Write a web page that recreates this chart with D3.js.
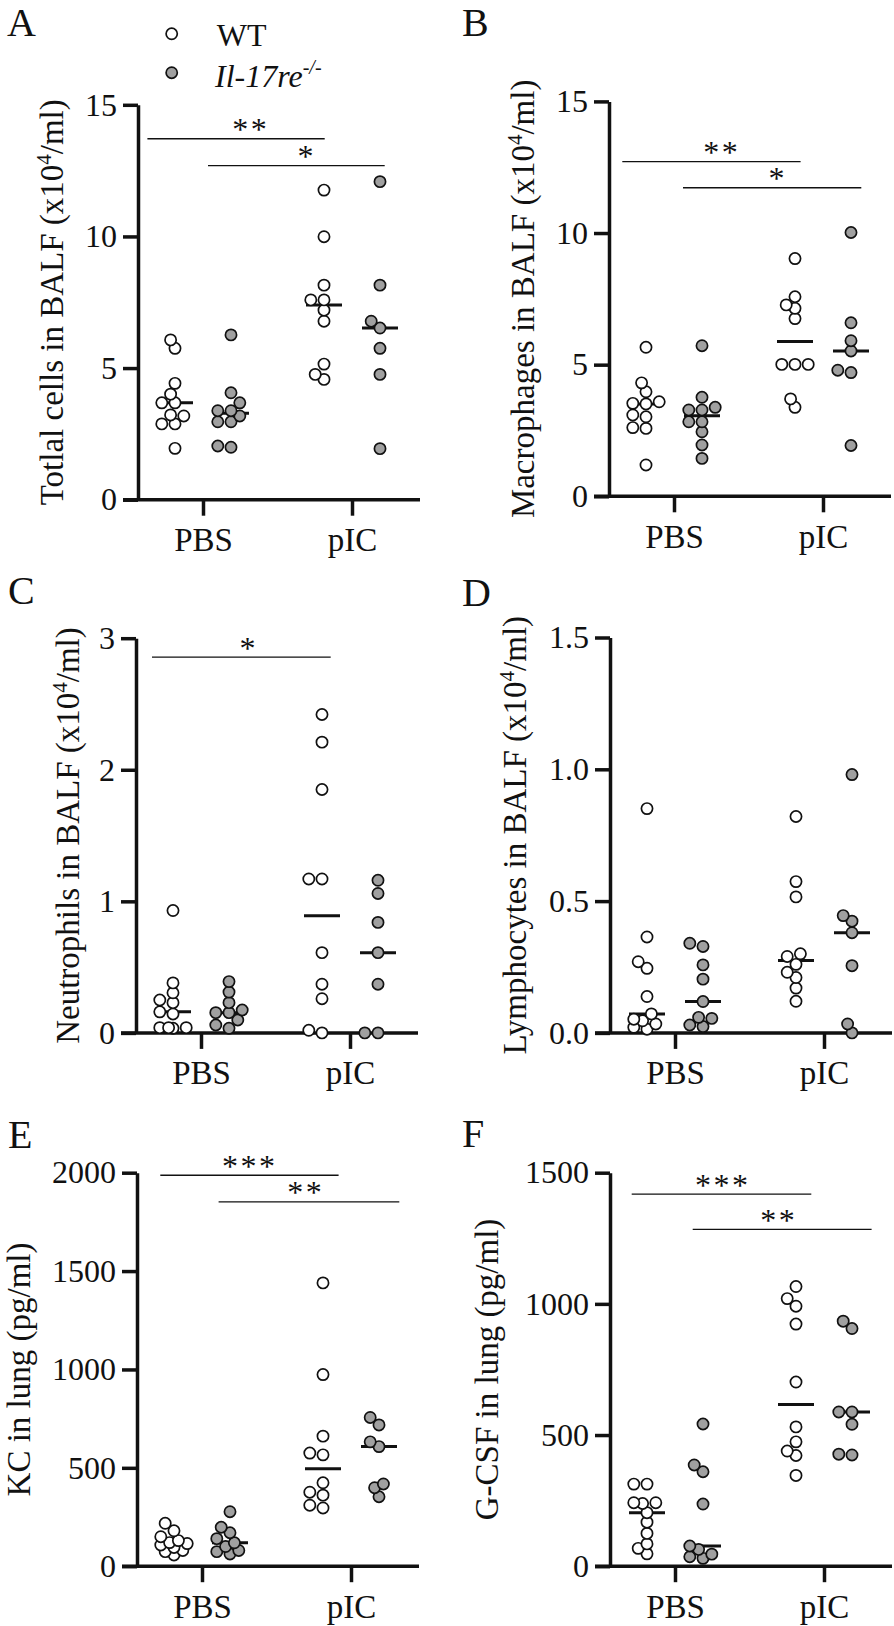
<!DOCTYPE html>
<html><head><meta charset="utf-8">
<script src="https://cdn.jsdelivr.net/npm/d3@7"></script>
<style>
html,body{margin:0;padding:0;background:#fff;}
svg{display:block;}
text{font-family:"Liberation Serif","Times New Roman",serif;fill:#111;}
</style></head><body>
<svg id="chart" width="894" height="1626"></svg>
<script>
// ---------- data ----------
const categories = ["PBS", "pIC"];
const groups = ["WT", "KO"];

// A: total cells (x10^4/ml)
const totalWT_PBS = [6.07, 5.75, 4.42, 4.01, 3.68, 3.68, 3.22, 3.18, 2.88, 2.88, 1.95];
const totalKO_PBS = [6.26, 4.06, 3.68, 3.38, 3.38, 3.18, 2.96, 2.96, 2.04, 1.99];
const totalWT_pIC = [11.76, 9.99, 8.15, 7.59, 7.59, 7.2, 6.78, 5.15, 4.76, 4.57];
const totalKO_pIC = [12.08, 8.15, 6.78, 6.52, 5.75, 4.76, 1.94];
// B: macrophages
const macWT_PBS = [5.66, 4.31, 3.97, 3.59, 3.53, 3.51, 3.09, 3.02, 2.61, 2.58, 1.19];
const macKO_PBS = [5.72, 3.76, 3.38, 3.28, 3.28, 2.83, 2.83, 2.45, 1.95, 1.44];
const macWT_pIC = [9.03, 7.58, 7.27, 7.14, 6.75, 5.01, 5.01, 5.01, 3.70, 3.38];
const macKO_pIC = [10.02, 6.59, 5.91, 5.52, 4.79, 4.70, 1.93];
// C: neutrophils
const neuWT_PBS = [0.93, 0.38, 0.305, 0.25, 0.23, 0.16, 0.144, 0.04, 0.04, 0.04, 0.035];
const neuKO_PBS = [0.39, 0.31, 0.23, 0.174, 0.154, 0.154, 0.098, 0.06, 0.035];
const neuWT_pIC = [2.42, 2.21, 1.85, 1.17, 1.17, 0.61, 0.37, 0.26, 0.02, 0.0];
const neuKO_pIC = [1.16, 1.06, 0.84, 0.61, 0.37, 0.0, 0.0];
// D: lymphocytes
const lymWT_PBS = [0.851, 0.364, 0.27, 0.245, 0.138, 0.072, 0.052, 0.046, 0.034, 0.021, 0.014];
const lymKO_PBS = [0.34, 0.328, 0.258, 0.204, 0.119, 0.059, 0.055, 0.03, 0.024];
const lymWT_pIC = [0.821, 0.574, 0.516, 0.30, 0.29, 0.26, 0.23, 0.21, 0.17, 0.12];
const lymKO_pIC = [0.98, 0.445, 0.424, 0.38, 0.255, 0.034, 0.0];
// E: KC in lung (pg/ml)
const kcWT_PBS = [218, 180, 150, 130, 120, 115, 108, 95, 80, 74, 57];
const kcKO_PBS = [277, 198, 170, 140, 119, 100, 80, 74, 62];
const kcWT_pIC = [1440, 974, 661, 575, 566, 424, 376, 361, 310, 296];
const kcKO_pIC = [756, 718, 632, 608, 418, 399, 353];
// F: G-CSF in lung (pg/ml)
const gcsfWT_PBS = [313, 313, 242, 242, 239, 204, 168, 125, 85, 68, 47];
const gcsfKO_PBS = [542, 386, 360, 237, 77, 64, 46, 36, 30];
const gcsfWT_pIC = [1066, 1020, 991, 923, 702, 531, 474, 439, 422, 346];
const gcsfKO_pIC = [934, 906, 588, 588, 541, 427, 424];

// tick labels
const ticksA = [0, 5, 10, 15];
const ticksC = [0, 1, 2, 3];
const ticksD = [0, 0.5, 1.0, 1.5];
const ticksE = [0, 500, 1000, 1500, 2000];
const ticksF = [0, 500, 1000, 1500];

const legendLabels = ["WT", "Il-17re", "-/-"];

// ---------- layout ----------
const panels = [
  {id:"A", data:{WT:{PBS:totalWT_PBS,pIC:totalWT_pIC},KO:{PBS:totalKO_PBS,pIC:totalKO_pIC}},
   domain:[0,15], ticks:ticksA, fmt:d3.format("d"), label:["Totlal cells in BALF (x10","4","/ml)"],
   axisX:138, yTop:104.8, yBot:499.7, letter:[7,36], labelX:63,
   sig:[{g:"WT",y:13.71,t:"**",d:[-27.6,0.7]},{g:"KO",y:12.69,t:"*",d:[-23,4.7]}]},
  {id:"B", data:{WT:{PBS:macWT_PBS,pIC:macWT_pIC},KO:{PBS:macKO_PBS,pIC:macKO_pIC}},
   domain:[0,15], ticks:ticksA, fmt:d3.format("d"), label:["Macrophages in BALF (x10","4","/ml)"],
   axisX:609, yTop:101.4, yBot:496.3, letter:[462,36], labelX:534,
   sig:[{g:"WT",y:12.71,t:"**",d:[-23.7,5.6]},{g:"KO",y:11.72,t:"*",d:[-19,10.3]}]},
  {id:"C", data:{WT:{PBS:neuWT_PBS,pIC:neuWT_pIC},KO:{PBS:neuKO_PBS,pIC:neuKO_pIC}},
   domain:[0,3], ticks:ticksC, fmt:d3.format("d"), label:["Neutrophils in BALF (x10","4","/ml)"],
   axisX:136, yTop:638.2, yBot:1032.9, letter:[8,604], labelX:79,
   sig:[{g:"WT",y:2.856,t:"*",d:[-21,8.7]}]},
  {id:"D", data:{WT:{PBS:lymWT_PBS,pIC:lymWT_pIC},KO:{PBS:lymKO_PBS,pIC:lymKO_pIC}},
   domain:[0,1.5], ticks:ticksD, fmt:d3.format(".1f"), label:["Lymphocytes in BALF (x10","4","/ml)"],
   axisX:610, yTop:637.5, yBot:1032.9, letter:[462,606], labelX:526, sig:[]},
  {id:"E", data:{WT:{PBS:kcWT_PBS,pIC:kcWT_pIC},KO:{PBS:kcKO_PBS,pIC:kcKO_pIC}},
   domain:[0,2000], ticks:ticksE, fmt:d3.format("d"), label:["KC in lung (pg/ml)"],
   axisX:137, yTop:1172.7, yBot:1566.2, letter:[8,1148], labelX:30,
   sig:[{g:"WT",y:1987,t:"***",d:[-13.7,15.6]},{g:"KO",y:1852,t:"**",d:[-11.4,20.3]}]},
  {id:"F", data:{WT:{PBS:gcsfWT_PBS,pIC:gcsfWT_pIC},KO:{PBS:gcsfKO_PBS,pIC:gcsfKO_pIC}},
   domain:[0,1500], ticks:ticksF, fmt:d3.format("d"), label:["G-CSF in lung (pg/ml)"],
   axisX:610, yTop:1172.7, yBot:1566.2, letter:[462,1146.5], labelX:497.5,
   sig:[{g:"WT",y:1418,t:"***",d:[-15.3,15.3]},{g:"KO",y:1284,t:"**",d:[-10.3,19.6]}]}
];

const FILL = {WT:"#ffffff", KO:"#a0a0a0"};
const R = 5.6, SW = 1.7, AXW = 3.5;
const svg = d3.select("#chart");

// bounded beeswarm: dots stay within ±maxOff of the column centre, overlapping when crowded
function swarm(vals, y, cx) {
  const pts = vals.map(v => ({v, y:y(v)})).sort((a,b) => b.y - a.y);
  const placed = [];
  const minD = 9.4, step = 4.4, maxOff = 13.2;
  pts.forEach(p => {
    let bestX = cx, bestD = -1;
    for (let k = 0; ; k++) {
      const off = (k % 2 === 1 ? -1 : 1) * Math.ceil(k/2) * step;
      if (Math.abs(off) > maxOff + 0.01) break;
      const x = cx + off;
      const d = placed.length ? d3.min(placed, q => Math.hypot(q.x - x, q.y - p.y)) : Infinity;
      if (d >= minD) { bestX = x; bestD = d; break; }
      if (d > bestD + 0.5) { bestD = d; bestX = x; }
    }
    p.x = bestX;
    placed.push(p);
  });
  return placed;
}

panels.forEach(P => {
  const g = svg.append("g");
  const y = d3.scaleLinear().domain(P.domain).range([P.yBot, P.yTop]);
  const x = d3.scalePoint().domain(categories).range([P.axisX + 65, P.axisX + 214]);
  const sub = d3.scalePoint().domain(groups).range([-28, 28]);

  // panel letter
  g.append("text").attr("x", P.letter[0]).attr("y", P.letter[1])
    .attr("font-size", 40).text(P.id);

  // y axis
  const ya = g.append("g").attr("transform", `translate(${P.axisX},0)`)
    .call(d3.axisLeft(y).tickValues(P.ticks).tickFormat(P.fmt).tickSize(15).tickSizeOuter(0).tickPadding(6));
  ya.select(".domain").attr("stroke", "#111").attr("stroke-width", AXW);
  ya.selectAll(".tick line").attr("stroke", "#111").attr("stroke-width", AXW);
  ya.selectAll(".tick text").attr("font-size", 32).attr("fill", "#111");

  // x axis
  g.append("line").attr("x1", P.axisX - 15).attr("x2", P.axisX + 282)
    .attr("y1", P.yBot).attr("y2", P.yBot).attr("stroke", "#111").attr("stroke-width", AXW);
  const xa = g.append("g").attr("transform", `translate(0,${P.yBot})`)
    .call(d3.axisBottom(x).tickSize(16).tickSizeOuter(0).tickPadding(12));
  xa.select(".domain").remove();
  xa.selectAll(".tick line").attr("stroke", "#111").attr("stroke-width", AXW);
  xa.selectAll(".tick text").attr("font-size", 33).attr("fill", "#111");

  // y label
  const lt = g.append("text")
    .attr("transform", `translate(${P.labelX},${(P.yTop + P.yBot)/2}) rotate(-90)`)
    .attr("text-anchor", "middle").attr("font-size", 33);
  lt.append("tspan").text(P.label[0]);
  if (P.label.length > 1) {
    lt.append("tspan").attr("font-size", 21).attr("dy", -12).text(P.label[1]);
    lt.append("tspan").attr("dy", 12).text(P.label[2]);
  }

  // significance
  P.sig.forEach(s => {
    const x1 = x("PBS") + sub(s.g), x2 = x("pIC") + sub(s.g);
    g.append("line").attr("x1", x1 + s.d[0]).attr("x2", x2 + s.d[1])
      .attr("y1", y(s.y)).attr("y2", y(s.y)).attr("stroke", "#111").attr("stroke-width", 1.3);
    g.append("text").attr("x", (x1 + x2)/2 + 1.3).attr("y", y(s.y) + 1.5)
      .attr("text-anchor", "middle").attr("font-size", 32).attr("letter-spacing", 2.6).text(s.t);
  });

  // medians + dots
  categories.forEach(c => groups.forEach(gr => {
    const vals = P.data[gr][c];
    const cx = x(c) + sub(gr);
    const m = d3.median(vals);
    g.append("line").attr("x1", cx - 18).attr("x2", cx + 18)
      .attr("y1", y(m)).attr("y2", y(m)).attr("stroke", "#111").attr("stroke-width", 3);
    g.selectAll(null).data(swarm(vals, y, cx)).join("circle")
      .attr("cx", d => d.x).attr("cy", d => d.y).attr("r", R)
      .attr("fill", FILL[gr]).attr("stroke", "#111").attr("stroke-width", SW);
  }));
});

// legend (panel A)
const lg = svg.append("g");
lg.selectAll("circle").data(groups).join("circle")
  .attr("cx", 171.7).attr("cy", (d, i) => 33.8 + i * 38.9).attr("r", R)
  .attr("fill", d => FILL[d]).attr("stroke", "#111").attr("stroke-width", SW);
lg.append("text").attr("x", 216.7).attr("y", 45.6).attr("font-size", 32).text(legendLabels[0]);
const lt2 = lg.append("text").attr("x", 215).attr("y", 87).attr("font-size", 32).attr("font-style", "italic");
lt2.append("tspan").text(legendLabels[1]);
lt2.append("tspan").attr("font-size", 20).attr("dy", -13).text(legendLabels[2]);
</script>
</body></html>
